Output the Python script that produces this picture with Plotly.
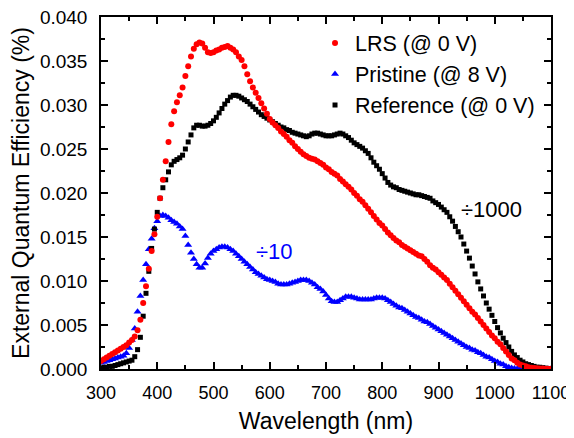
import plotly.graph_objects as go

wavelength = list(range(300, 1101, 5))

lrs = [
    0.0009, 0.0011, 0.0013, 0.0015, 0.0017, 0.0019, 0.0021, 0.0023, 0.0025, 0.0027,
    0.0030, 0.0033, 0.0037, 0.0044, 0.0056, 0.0075, 0.0094, 0.0114, 0.0134, 0.0153,
    0.0173, 0.0194, 0.0215, 0.0236, 0.0258, 0.0278, 0.0293, 0.0303, 0.0311, 0.0320,
    0.0333, 0.0344, 0.0355, 0.0364, 0.0369, 0.0371, 0.0370, 0.0365, 0.0360, 0.0359,
    0.0360, 0.0362, 0.0363, 0.0365, 0.0366, 0.0367, 0.0365, 0.0363, 0.0360, 0.0355,
    0.0351, 0.0344, 0.0335, 0.0327, 0.0320, 0.0314, 0.0308, 0.0302, 0.0296, 0.0290,
    0.0284, 0.0280, 0.0277, 0.0274, 0.0270, 0.0267, 0.0264, 0.0260, 0.0257, 0.0253,
    0.0250, 0.0247, 0.0244, 0.0242, 0.0240, 0.0239, 0.0238, 0.0236, 0.0234, 0.0232,
    0.0229, 0.0227, 0.0224, 0.0222, 0.0220, 0.0216, 0.0213, 0.0210, 0.0207, 0.0204,
    0.0200, 0.0197, 0.0193, 0.0190, 0.0186, 0.0182, 0.0178, 0.0174, 0.0170, 0.0166,
    0.0163, 0.0159, 0.0155, 0.0152, 0.0149, 0.0146, 0.0144, 0.0141, 0.0139, 0.0137,
    0.0135, 0.0133, 0.0131, 0.0129, 0.0128, 0.0125, 0.0122, 0.0118, 0.0115, 0.0113,
    0.0110, 0.0107, 0.0104, 0.0101, 0.0097, 0.0093, 0.0089, 0.0085, 0.0081, 0.0077,
    0.0073, 0.0069, 0.0065, 0.0062, 0.0058, 0.0054, 0.0050, 0.0046, 0.0042, 0.0038,
    0.0035, 0.0031, 0.0028, 0.0024, 0.0020, 0.0016, 0.0012, 0.0010, 0.0007, 0.0005,
    0.0004, 0.0003, 0.0002, 0.00015, 0.0001, 0.00008, 0.00006, 0.00005, 0.00004, 0.00003,
    0.00003,
]

pristine = [
    0.0007, 0.0008, 0.0009, 0.0010, 0.0011, 0.0012, 0.0013, 0.0014, 0.0015, 0.0018,
    0.0024, 0.0033, 0.0046, 0.0065, 0.0083, 0.0101, 0.0119, 0.0136, 0.0148, 0.0160,
    0.0168, 0.0174, 0.0175, 0.0174, 0.0172, 0.0169, 0.0167, 0.0165, 0.0162, 0.0159,
    0.0151, 0.0141, 0.0132, 0.0125, 0.0119, 0.0115, 0.0115, 0.0120, 0.0126, 0.0131,
    0.0134, 0.0136, 0.0138, 0.0139, 0.0139, 0.0138, 0.0136, 0.0134, 0.0131, 0.0128,
    0.0125, 0.0122, 0.0119, 0.0116, 0.0113, 0.0110, 0.0108, 0.0106, 0.0104, 0.0102,
    0.0101, 0.0100, 0.0099, 0.0097, 0.0096, 0.0096, 0.0096, 0.0097, 0.0098, 0.0099,
    0.0100, 0.0101, 0.0101, 0.0101, 0.0100, 0.0098, 0.0096, 0.0093, 0.0091, 0.0088,
    0.0084, 0.0080, 0.0077, 0.0076, 0.0076, 0.0078, 0.0080, 0.0082, 0.0082, 0.0082,
    0.0081, 0.0080, 0.0079, 0.0079, 0.0079, 0.0079, 0.0079, 0.0080, 0.0081, 0.0081,
    0.0081, 0.0080, 0.0078, 0.0076, 0.0074, 0.0072, 0.0070, 0.0069, 0.0067, 0.0065,
    0.0063, 0.0061, 0.0059, 0.0058, 0.0056, 0.0054, 0.0053, 0.0051, 0.0049, 0.0047,
    0.0045, 0.0043, 0.0041, 0.0039, 0.0037, 0.0035, 0.0033, 0.0031, 0.0029, 0.0027,
    0.0025, 0.0024, 0.0022, 0.0021, 0.0019, 0.0018, 0.0016, 0.0014, 0.0013, 0.0011,
    0.0009, 0.0008, 0.0006, 0.0005, 0.0003, 0.0002, 0.0001, 0.00005, 0.00002, 0.0,
    0.0, 0.0, 0.0, 0.0, 0.0, 0.0, 0.0, 0.0, 0.0, 0.0,
    0.0,
]

reference = [
    0.0001, 0.0002, 0.0002, 0.0003, 0.0003, 0.0004, 0.0005, 0.0006, 0.0007, 0.0008,
    0.0009, 0.0010, 0.0014, 0.0022, 0.0036, 0.0060, 0.0086, 0.0111, 0.0137, 0.0159,
    0.0178, 0.0194, 0.0206, 0.0215, 0.0224, 0.0232, 0.0236, 0.0238, 0.0240, 0.0243,
    0.0250, 0.0258, 0.0266, 0.0274, 0.0277, 0.0277, 0.0276, 0.0276, 0.0277, 0.0279,
    0.0282, 0.0286, 0.0291, 0.0296, 0.0301, 0.0305, 0.0309, 0.0311, 0.0311, 0.0310,
    0.0308, 0.0306, 0.0304, 0.0301, 0.0298, 0.0295, 0.0292, 0.0289, 0.0287, 0.0285,
    0.0283, 0.0281, 0.0279, 0.0277, 0.0275, 0.0274, 0.0272, 0.0271, 0.0269, 0.0268,
    0.0267, 0.0266, 0.0265, 0.0264, 0.0265, 0.0267, 0.0268, 0.0268, 0.0267, 0.0266,
    0.0265, 0.0265, 0.0265, 0.0266, 0.0267, 0.0268, 0.0267, 0.0265, 0.0263, 0.0260,
    0.0257, 0.0255, 0.0253, 0.0251, 0.0248, 0.0245, 0.0240, 0.0235, 0.0231, 0.0227,
    0.0222, 0.0217, 0.0212, 0.0209, 0.0207, 0.0206, 0.0204, 0.0203, 0.0202, 0.0201,
    0.0200, 0.0199, 0.0198, 0.0198, 0.0197, 0.0196, 0.0195, 0.0194, 0.0191, 0.0189,
    0.0187, 0.0184, 0.0181, 0.0178, 0.0173, 0.0168, 0.0162, 0.0156, 0.0150, 0.0142,
    0.0134, 0.0126, 0.0117, 0.0108, 0.0099, 0.0091, 0.0083, 0.0075, 0.0068, 0.0061,
    0.0054, 0.0047, 0.0041, 0.0035, 0.0030, 0.0025, 0.0020, 0.0016, 0.0013, 0.0010,
    0.0008, 0.0006, 0.0005, 0.0004, 0.0003, 0.0002, 0.0002, 0.00015, 0.0001, 0.00005,
    0.00005,
]

series_names = ["LRS (@ 0 V)", "Pristine (@ 8 V)", "Reference (@ 0 V)"]
x_ticks = [300, 400, 500, 600, 700, 800, 900, 1000, 1100]
y_ticks = [0.000, 0.005, 0.010, 0.015, 0.020, 0.025, 0.030, 0.035, 0.040]

FONT = "Liberation Sans, Arial, sans-serif"

fig = go.Figure()
fig.add_trace(go.Scatter(
    x=wavelength, y=pristine, mode="markers", name=series_names[1], legendrank=2,
    marker=dict(symbol="triangle-up", size=7, color="#0000ff", line=dict(width=0)),
))
fig.add_trace(go.Scatter(
    x=wavelength, y=reference, mode="markers", name=series_names[2], legendrank=3,
    marker=dict(symbol="square", size=5, color="#000000", line=dict(width=0)),
))
fig.add_trace(go.Scatter(
    x=wavelength, y=lrs, mode="markers", name=series_names[0], legendrank=1,
    marker=dict(symbol="circle", size=6, color="#ff0000", line=dict(width=0)),
))

axis_common = dict(
    showline=True, linecolor="black", linewidth=1.5, mirror="allticks",
    ticks="inside", ticklen=7, tickwidth=1.5, tickcolor="black",
    showgrid=False, zeroline=False, automargin=False, ticklabeloverflow="allow",
)

fig.update_xaxes(
    range=[300, 1100], tickvals=x_ticks, ticktext=[str(v) for v in x_ticks],
    minor=dict(ticks="inside", ticklen=4, tickwidth=1.5, tickcolor="black", dtick=50, tick0=300),
    tickfont=dict(family=FONT, size=18, color="black"),
    title=dict(text="Wavelength (nm)", font=dict(family=FONT, size=23, color="black"), standoff=11),
    ticklabelstandoff=7,
    **axis_common,
)
fig.update_yaxes(
    range=[0, 0.040], tickvals=y_ticks, ticktext=[f"{v:.3f}" for v in y_ticks],
    minor=dict(ticks="inside", ticklen=4, tickwidth=1.5, tickcolor="black", dtick=0.0025, tick0=0),
    tickfont=dict(family=FONT, size=19, color="black"),
    title=dict(text="External Quantum Efficiency (%)", font=dict(family=FONT, size=23, color="black")),
    ticklabelstandoff=8,
    **axis_common,
)

fig.add_annotation(x=609, y=0.0133, xref="x", yref="y", text="÷10", showarrow=False,
                   font=dict(family=FONT, size=22, color="#0000ff"))
fig.add_annotation(x=994, y=0.0181, xref="x", yref="y", text="÷1000", showarrow=False,
                   font=dict(family=FONT, size=22, color="black"))

# the page body adds an 8 px margin; margins are set so the plot area lands where the reference has it
fig.update_layout(
    width=574, height=438,
    margin=dict(l=93, r=31, t=9, b=77),
    paper_bgcolor="white", plot_bgcolor="white",
    showlegend=True,
    legend=dict(x=0.4756, y=0.984, xanchor="left", yanchor="top",
                bgcolor="rgba(0,0,0,0)", font=dict(family=FONT, size=21.5, color="black"),
                itemsizing="trace", tracegroupgap=0),
)

fig.write_html("out.html")
